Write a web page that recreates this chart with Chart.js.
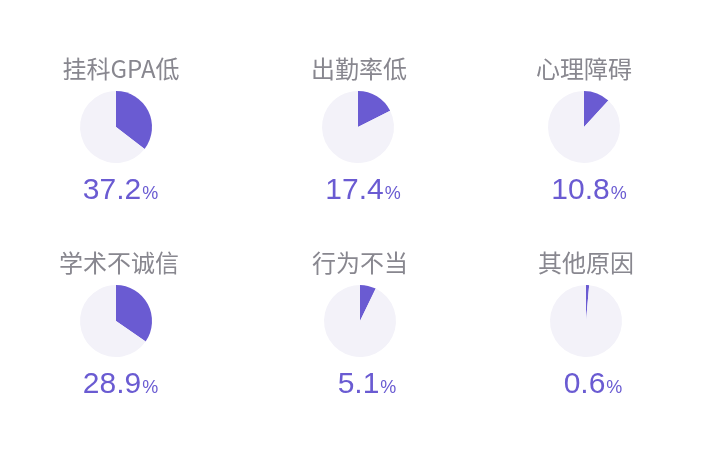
<!DOCTYPE html>
<html><head><meta charset="utf-8">
<script src="https://cdn.jsdelivr.net/npm/chart.js@4.4.1/dist/chart.umd.min.js"></script>
<style>
html,body{margin:0;padding:0;background:#fff;width:703px;height:461px;overflow:hidden}
canvas.cell{position:absolute}
</style></head><body>
<script>
// ---- data ----
const categories = ['挂科GPA低', '出勤率低', '心理障碍', '学术不诚信', '行为不当', '其他原因'];
// percentages printed under each pie
const percentValues = [37.2, 17.4, 10.8, 28.9, 5.1, 0.6];
const sliceShares = [35.4, 17.6, 11.8, 34.6, 7.2, 1.4];
const totalShare = 100;

// ---- layout (positions only) ----
const pieCentersX = [116, 358, 584, 116, 360, 586];
const pieCentersY = [127, 127, 127, 321, 321, 321];
const titleDx = [5, 1, 0, 3, 0, 0];
const valueDx = [4.5, 5, 5, 4.5, 7, 7];

// ---- style ----
const SLICE = '#6a5bd2';
const REST = '#f3f2f9';
const TITLE_COLOR = '#88878f';
const VALUE_COLOR = '#6a5bd2';
const W = 240, H = 200, PCX = 120, PCY = 110, R = 36;

const labelPlugin = {
  id: 'cellLabels',
  afterDraw(chart, args, opts) {
    const ctx = chart.ctx;
    ctx.save();
    ctx.fillStyle = TITLE_COLOR;
    ctx.font = '24px "Noto Sans CJK SC", sans-serif';
    ctx.textAlign = 'center';
    ctx.textBaseline = 'middle';
    ctx.fillText(opts.title, PCX + opts.tdx, PCY - 58);

    const num = opts.value.toFixed(1);
    ctx.textAlign = 'left';
    ctx.textBaseline = 'alphabetic';
    ctx.font = '30px "Liberation Sans", Arial, sans-serif';
    const wN = ctx.measureText(num).width;
    ctx.font = '18px "Liberation Sans", Arial, sans-serif';
    const wP = ctx.measureText('%').width;
    const gap = 1;
    const x0 = PCX + opts.vdx - (wN + gap + wP) / 2;
    ctx.fillStyle = VALUE_COLOR;
    ctx.font = '30px "Liberation Sans", Arial, sans-serif';
    ctx.fillText(num, x0, PCY + 72);
    ctx.font = '18px "Liberation Sans", Arial, sans-serif';
    ctx.fillText('%', x0 + wN + gap, PCY + 72);
    ctx.restore();
  }
};

categories.forEach((name, i) => {
  const c = document.createElement('canvas');
  c.className = 'cell';
  c.width = W; c.height = H;
  c.style.width = W + 'px'; c.style.height = H + 'px';
  c.style.left = (pieCentersX[i] - PCX) + 'px';
  c.style.top = (pieCentersY[i] - PCY) + 'px';
  document.body.appendChild(c);
  new Chart(c, {
    type: 'pie',
    data: {
      labels: [name, '其他'],
      datasets: [{
        data: [sliceShares[i], totalShare - sliceShares[i]],
        backgroundColor: [SLICE, REST],
        borderWidth: 0,
        hoverOffset: 0
      }]
    },
    options: {
      responsive: false,
      animation: false,
      devicePixelRatio: 1,
      layout: { padding: { left: PCX - R, right: W - PCX - R, top: PCY - R, bottom: H - PCY - R } },
      plugins: {
        legend: { display: false },
        tooltip: { enabled: false },
        title: { display: false },
        cellLabels: { title: name, value: percentValues[i], tdx: titleDx[i], vdx: valueDx[i] }
      }
    },
    plugins: [labelPlugin]
  });
});
</script>
</body></html>
